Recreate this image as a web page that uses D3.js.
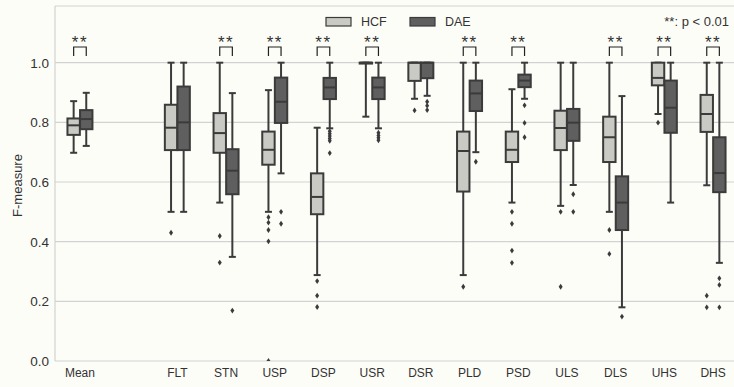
<!DOCTYPE html>
<html>
<head>
<meta charset="utf-8">
<script src="https://cdn.jsdelivr.net/npm/d3@7"></script>
<style>
  html, body { margin: 0; padding: 0; background: #fdfdf8; }
  svg { display: block; }
  text { font-family: "Liberation Sans", Arial, sans-serif; fill: #333; }
</style>
</head>
<body>
<svg id="chart" width="734" height="387"></svg>
<script>
// ---- data ----
const categories = ["Mean", "_gap", "FLT", "STN", "USP", "DSP", "USR", "DSR", "PLD", "PSD", "ULS", "DLS", "UHS", "DHS"];
const seriesNames = ["HCF", "DAE"];
const yTicks = [0.0, 0.2, 0.4, 0.6, 0.8, 1.0];
// [whiskerLow, Q1, median, Q3, whiskerHigh] per category (null for the gap)
const hcfStats = [
  [0.698, 0.758, 0.790, 0.813, 0.871],
  null,
  [0.500, 0.707, 0.782, 0.859, 1.000],
  [0.531, 0.698, 0.764, 0.831, 1.000],
  [0.500, 0.658, 0.708, 0.769, 0.908],
  [0.288, 0.492, 0.550, 0.629, 0.782],
  [0.819, 0.997, 1.000, 1.000, 1.000],
  [0.879, 0.939, 1.000, 1.000, 1.000],
  [0.288, 0.568, 0.704, 0.769, 1.000],
  [0.531, 0.667, 0.708, 0.769, 0.911],
  [0.520, 0.707, 0.781, 0.839, 1.000],
  [0.500, 0.667, 0.750, 0.819, 1.000],
  [0.828, 0.924, 0.949, 1.000, 1.000],
  [0.589, 0.768, 0.828, 0.892, 1.000]
];
const daeStats = [
  [0.721, 0.777, 0.811, 0.841, 0.899],
  null,
  [0.500, 0.707, 0.800, 0.920, 1.000],
  [0.349, 0.559, 0.638, 0.710, 0.898],
  [0.629, 0.798, 0.869, 0.950, 1.000],
  [0.780, 0.878, 0.917, 0.949, 1.000],
  [0.780, 0.878, 0.917, 0.950, 1.000],
  [0.889, 0.948, 1.000, 1.000, 1.000],
  [0.700, 0.838, 0.897, 0.940, 1.000],
  [0.879, 0.918, 0.940, 0.960, 1.000],
  [0.590, 0.738, 0.799, 0.845, 1.000],
  [0.180, 0.439, 0.531, 0.619, 0.888],
  [0.531, 0.765, 0.849, 0.940, 1.000],
  [0.329, 0.566, 0.630, 0.750, 1.000]
];
const hcfOutliers = [
  [], [], [0.430], [0.419, 0.330], [0.482, 0.464, 0.439, 0.401, 0.0],
  [0.268, 0.219, 0.181], [], [0.840], [0.249], [0.500, 0.460, 0.370, 0.329],
  [0.500, 0.249], [0.439, 0.359], [0.799], [0.219, 0.180]
];
const daeOutliers = [
  [], [], [], [0.169], [0.500, 0.460],
  [0.770, 0.762, 0.754, 0.746, 0.738, 0.697], [0.765, 0.756, 0.748, 0.740], [0.869, 0.856, 0.841], [0.668], [0.857, 0.798, 0.750],
  [0.559, 0.500], [0.149], [], [0.277, 0.255, 0.180]
];
const significant = ["Mean", "STN", "USP", "DSP", "USR", "PLD", "PSD", "DLS", "UHS", "DHS"];
const sigLabel = "**";
const noteText = "**: p < 0.01";
const yLabel = "F-measure";

// ---- layout ----
const svg = d3.select("#chart");
const W = 734, H = 387;
const mLeft = 55, mTop = 6, mBottom = 361;
const band = 48.7;
const colors = { HCF: "#c9cac4", DAE: "#5f5f5f" };
const edge = "#3b3b3b";

const x = d3.scaleBand().domain(categories).range([mLeft + 0.6, mLeft + 0.6 + band * categories.length]).padding(0);
const y = d3.scaleLinear().domain([0, 1.19]).range([mBottom, mTop]);
const offset = 6.3, boxW = 12.4, capW = 7;

svg.append("rect").attr("width", W).attr("height", H).attr("fill", "#fdfdf8");

// clip
svg.append("defs").append("clipPath").attr("id", "plotclip")
  .append("rect").attr("x", mLeft).attr("y", mTop - 1).attr("width", W - mLeft).attr("height", mBottom - mTop + 1);

// grid
const grid = svg.append("g");
grid.selectAll("line").data(yTicks).join("line")
  .attr("x1", mLeft).attr("x2", W)
  .attr("y1", d => y(d)).attr("y2", d => y(d))
  .attr("stroke", "#d2d2d2").attr("stroke-width", 1.2);
// frame
svg.append("line").attr("x1", mLeft).attr("x2", W).attr("y1", mTop).attr("y2", mTop).attr("stroke", "#d2d2d2").attr("stroke-width", 1.2);
svg.append("line").attr("x1", mLeft).attr("x2", mLeft).attr("y1", mTop).attr("y2", mBottom).attr("stroke", "#d2d2d2").attr("stroke-width", 1.2);

// y axis labels
const yAxis = d3.axisLeft(y).tickValues(yTicks).tickFormat(d3.format(".1f")).tickSize(0).tickPadding(6);
const gy = svg.append("g").attr("transform", `translate(${mLeft},0)`).call(yAxis);
gy.select(".domain").remove();
gy.selectAll("text").attr("font-size", 13.5).attr("fill", "#333").style("font-family", "Liberation Sans, Arial, sans-serif");

// x axis labels
const xAxis = d3.axisBottom(x).tickFormat(d => d === "_gap" ? "" : d).tickSize(0).tickPadding(7);
const gx = svg.append("g").attr("transform", `translate(0,${mBottom})`).call(xAxis);
gx.select(".domain").remove();
gx.selectAll("text").attr("font-size", 12).attr("fill", "#333").style("font-family", "Liberation Sans, Arial, sans-serif");

svg.append("text").attr("transform", `translate(22,${(mTop + mBottom) / 2 + 2}) rotate(-90)`)
  .attr("text-anchor", "middle").attr("font-size", 13).text(yLabel);

// boxes
const plot = svg.append("g").attr("clip-path", "url(#plotclip)");
const series = [
  { name: "HCF", stats: hcfStats, outliers: hcfOutliers, dx: -offset },
  { name: "DAE", stats: daeStats, outliers: daeOutliers, dx: offset }
];
series.forEach(s => {
  categories.forEach((c, i) => {
    const st = s.stats[i];
    if (!st) return;
    const cx = x(c) + x.bandwidth() / 2 + s.dx;
    const [lo, q1, med, q3, hi] = st;
    const g = plot.append("g");
    g.append("line").attr("x1", cx).attr("x2", cx).attr("y1", y(q3)).attr("y2", y(hi)).attr("stroke", edge).attr("stroke-width", 2);
    g.append("line").attr("x1", cx).attr("x2", cx).attr("y1", y(q1)).attr("y2", y(lo)).attr("stroke", edge).attr("stroke-width", 2);
    g.append("line").attr("x1", cx - capW / 2).attr("x2", cx + capW / 2).attr("y1", y(hi)).attr("y2", y(hi)).attr("stroke", edge).attr("stroke-width", 2);
    g.append("line").attr("x1", cx - capW / 2).attr("x2", cx + capW / 2).attr("y1", y(lo)).attr("y2", y(lo)).attr("stroke", edge).attr("stroke-width", 2);
    g.append("rect").attr("x", cx - boxW / 2).attr("width", boxW)
      .attr("y", y(q3)).attr("height", Math.max(0.01, y(q1) - y(q3)))
      .attr("fill", colors[s.name]).attr("stroke", edge).attr("stroke-width", 2);
    g.append("line").attr("x1", cx - boxW / 2).attr("x2", cx + boxW / 2).attr("y1", y(med)).attr("y2", y(med)).attr("stroke", edge).attr("stroke-width", 2);
    g.selectAll("path.o").data(s.outliers[i]).join("path").attr("class", "o")
      .attr("d", d3.symbol(d3.symbolDiamond2, 18))
      .attr("transform", d => `translate(${cx},${y(d)}) scale(0.75,1.1)`)
      .attr("fill", edge);
  });
});

// significance brackets
significant.forEach(c => {
  const cx = x(c) + x.bandwidth() / 2;
  const x1 = cx - offset, x2 = cx + offset;
  svg.append("path").attr("d", `M${x1},56 L${x1},47 L${x2},47 L${x2},56`)
    .attr("fill", "none").attr("stroke", "#222").attr("stroke-width", 1.2);
  svg.append("text").attr("x", cx).attr("y", 48).attr("text-anchor", "middle")
    .attr("font-size", 17).attr("letter-spacing", 1.5).attr("fill", "#222").text(sigLabel);
});

// legend
const legend = svg.append("g");
const legendX = [326, 410];
seriesNames.forEach((n, i) => {
  legend.append("rect").attr("x", legendX[i]).attr("y", 17.5).attr("width", 25).attr("height", 8.5)
    .attr("fill", colors[n]).attr("stroke", edge).attr("stroke-width", 1.2);
  legend.append("text").attr("x", legendX[i] + 35).attr("y", 26).attr("font-size", 12.5).text(n);
});

svg.append("text").attr("x", 729).attr("y", 26).attr("text-anchor", "end").attr("font-size", 13).text(noteText);
</script>
</body>
</html>
